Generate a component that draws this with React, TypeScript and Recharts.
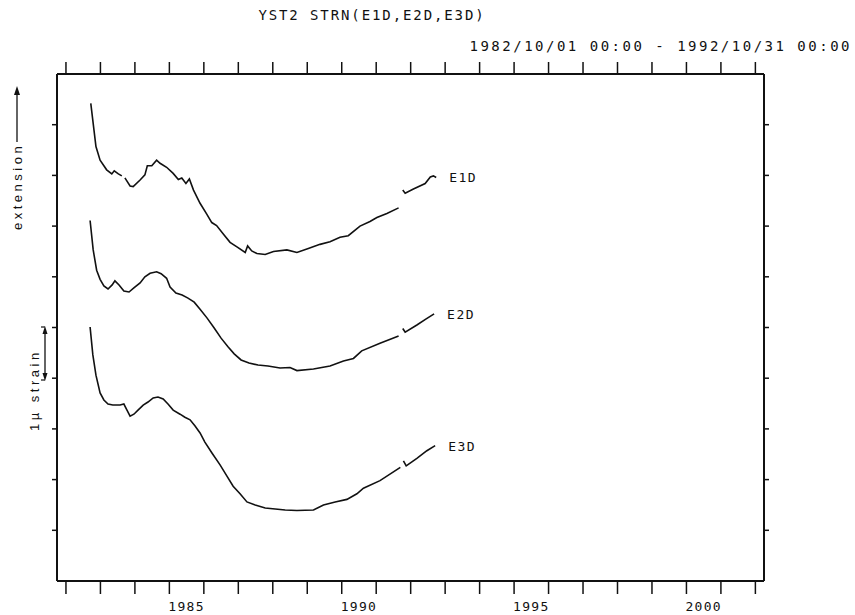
import React from 'react';
import { LineChart, Line, XAxis, YAxis } from 'recharts';

// time in decimal years, strain in 1µ units (arbitrary offset per component)
const e1dYears = [1982.72, 1982.87, 1982.99, 1983.18, 1983.33, 1983.4, 1983.52, 1983.62, 1983.66, 1983.71, 1983.86, 1983.95, 1984.15, 1984.29, 1984.36, 1984.49, 1984.63, 1984.73, 1984.92, 1985.11, 1985.26, 1985.36, 1985.48, 1985.58, 1985.7, 1985.89, 1986.08, 1986.23, 1986.37, 1986.57, 1986.76, 1986.96, 1987.2, 1987.27, 1987.39, 1987.54, 1987.78, 1988.02, 1988.41, 1988.7, 1989.03, 1989.37, 1989.66, 1989.95, 1990.19, 1990.53, 1990.82, 1991.02, 1991.31, 1991.65, 1991.71, 1991.77, 1991.84, 1992.08, 1992.42, 1992.57, 1992.66, 1992.74];
const e1dValues = [9.42, 8.57, 8.3, 8.11, 8.03, 8.09, 8.03, 7.99, null, 7.95, 7.79, 7.78, 7.91, 8.01, 8.19, 8.19, 8.3, 8.24, 8.16, 8.04, 7.92, 7.95, 7.84, 7.93, 7.71, 7.45, 7.24, 7.07, 7.01, 6.84, 6.68, 6.59, 6.48, 6.61, 6.51, 6.46, 6.44, 6.5, 6.53, 6.48, 6.56, 6.64, 6.69, 6.78, 6.81, 7.0, 7.09, 7.17, 7.25, 7.36, null, 7.71, 7.65, 7.73, 7.84, 7.97, 7.99, 7.96];

const e2dYears = [1982.7, 1982.79, 1982.89, 1982.99, 1983.1, 1983.22, 1983.34, 1983.42, 1983.54, 1983.68, 1983.83, 1983.97, 1984.15, 1984.29, 1984.44, 1984.63, 1984.76, 1984.92, 1985.02, 1985.19, 1985.37, 1985.54, 1985.72, 1985.89, 1986.09, 1986.3, 1986.5, 1986.7, 1986.88, 1987.08, 1987.31, 1987.57, 1987.86, 1988.21, 1988.5, 1988.7, 1989.18, 1989.66, 1990.05, 1990.34, 1990.58, 1991.11, 1991.65, 1991.71, 1991.77, 1991.84, 1992.18, 1992.45, 1992.68];
const e2dValues = [7.11, 6.53, 6.13, 5.95, 5.82, 5.76, 5.84, 5.92, 5.84, 5.72, 5.7, 5.78, 5.88, 6.0, 6.07, 6.1, 6.06, 5.97, 5.8, 5.68, 5.64, 5.58, 5.5, 5.36, 5.19, 4.99, 4.79, 4.62, 4.48, 4.36, 4.3, 4.26, 4.24, 4.2, 4.21, 4.15, 4.18, 4.24, 4.34, 4.39, 4.54, 4.69, 4.83, null, 4.98, 4.91, 5.05, 5.17, 5.27];

const e3dYears = [1982.7, 1982.78, 1982.87, 1982.99, 1983.1, 1983.22, 1983.36, 1983.57, 1983.68, 1983.77, 1983.86, 1983.97, 1984.09, 1984.24, 1984.38, 1984.53, 1984.67, 1984.82, 1984.96, 1985.11, 1985.31, 1985.45, 1985.6, 1985.74, 1985.89, 1986.03, 1986.24, 1986.47, 1986.67, 1986.85, 1987.05, 1987.25, 1987.49, 1987.78, 1988.07, 1988.36, 1988.7, 1989.18, 1989.47, 1989.81, 1990.15, 1990.44, 1990.63, 1991.11, 1991.7, 1991.74, 1991.79, 1991.87, 1992.18, 1992.47, 1992.71];
const e3dValues = [5.01, 4.46, 4.06, 3.71, 3.57, 3.49, 3.47, 3.47, 3.49, 3.37, 3.25, 3.29, 3.37, 3.47, 3.53, 3.61, 3.63, 3.59, 3.49, 3.37, 3.29, 3.23, 3.18, 3.06, 2.92, 2.74, 2.52, 2.29, 2.07, 1.87, 1.72, 1.56, 1.5, 1.44, 1.42, 1.4, 1.39, 1.4, 1.5, 1.56, 1.61, 1.72, 1.83, 1.98, 2.24, null, 2.37, 2.27, 2.42, 2.57, 2.67];

const yearTicks = [1982, 1983, 1984, 1985, 1986, 1987, 1988, 1989, 1990, 1991, 1992, 1993, 1994, 1995, 1996, 1997, 1998, 1999, 2000, 2001, 2002];
const labelYears = [1985, 1990, 1995, 2000];
const strainTicks = [1, 2, 3, 4, 5, 6, 7, 8, 9];

const title = 'YST2 STRN(E1D,E2D,E3D)';
const period = '1982/10/01 00:00 - 1992/10/31 00:00';

const toPoints = (years: number[], values: (number | null)[]) =>
  years.map((t, i) => ({ t, v: values[i] }));

const series = [
  { name: 'E1D', data: toPoints(e1dYears, e1dValues) },
  { name: 'E2D', data: toPoints(e2dYears, e2dValues) },
  { name: 'E3D', data: toPoints(e3dYears, e3dValues) },
];

const W = 855;
const H = 615;
// axes take 1px each, so the plot box is 57..764 x 74..581
const margin = { top: 73, right: 90, bottom: 33, left: 56 };
const xDomain = [1981.74, 2002.25];
const pxPerYear = (W - 57 - 91) / (xDomain[1] - xDomain[0]);
const mono = '"DejaVu Sans Mono", monospace';
const sans = '"Liberation Sans", Arial, sans-serif';

const YearTick = (props: any) => {
  const { x, y, payload } = props;
  if (!labelYears.includes(payload.value)) return <g />;
  return (
    <text x={x + pxPerYear / 2} y={y + 17} textAnchor="middle" fontFamily={mono} fontSize={13} fill="#111" style={{ letterSpacing: '1.3px' }}>
      {payload.value}
    </text>
  );
};

const NoLabel = () => <g />;

const endLabel = (name: string, last: number) => (props: any) => {
  const { x, y, index } = props;
  if (index !== last) return <g key={name + index} />;
  return (
    <text key={name} x={x + 13} y={y + 5} fontFamily={mono} fontSize={13} fill="#111" style={{ letterSpacing: '1.5px' }}>
      {name}
    </text>
  );
};

const axisStroke = { stroke: '#111', strokeWidth: 2 };
const tickStroke = { stroke: '#111', strokeWidth: 1.5 };

export default function App() {
  return (
    <div style={{ position: 'absolute', left: 0, top: 0, width: W, height: H, background: '#fff' }}>
      <LineChart width={W} height={H} margin={margin}>
        <XAxis xAxisId="b" type="number" dataKey="t" domain={xDomain} allowDataOverflow ticks={yearTicks} interval={0}
          height={1} tickSize={13} tickMargin={0} axisLine={axisStroke} tickLine={tickStroke} tick={<YearTick />} />
        <XAxis xAxisId="t" orientation="top" type="number" dataKey="t" domain={xDomain} allowDataOverflow ticks={yearTicks} interval={0}
          height={1} tickSize={12} axisLine={axisStroke} tickLine={tickStroke} tick={<NoLabel />} />
        <YAxis yAxisId="l" type="number" domain={[0, 10]} allowDataOverflow ticks={strainTicks} interval={0}
          width={1} tickSize={5} axisLine={axisStroke} tickLine={tickStroke} tick={<NoLabel />} />
        <YAxis yAxisId="r" orientation="right" type="number" domain={[0, 10]} allowDataOverflow ticks={strainTicks} interval={0}
          width={1} tickSize={5} axisLine={axisStroke} tickLine={tickStroke} tick={<NoLabel />} />
        {series.map((s) => (
          <Line key={s.name} xAxisId="b" yAxisId="l" data={s.data} dataKey="v" type="linear" stroke="#111" strokeWidth={1.6}
            dot={false} activeDot={false} connectNulls={false} isAnimationActive={false}
            label={endLabel(s.name, s.data.length - 1)} />
        ))}
      </LineChart>
      <svg width={W} height={H} style={{ position: 'absolute', left: 0, top: 0, pointerEvents: 'none' }}>
        <text x={372} y={20} textAnchor="middle" fontFamily={mono} fontSize={14} fill="#111" style={{ letterSpacing: '1.9px' }}>{title}</text>
        <text x={852} y={51} textAnchor="end" fontFamily={mono} fontSize={14} fill="#111" style={{ letterSpacing: '2.5px' }}>{period}</text>
        <text transform="translate(22,230) rotate(-90)" fontFamily={sans} fontSize={13} fill="#111" style={{ letterSpacing: '3.5px' }}>extension</text>
        <line x1={17} y1={142} x2={17} y2={92} stroke="#111" strokeWidth={1.3} />
        <path d="M17,86 L14,95 L20,95 Z" fill="#111" />
        <text transform="translate(39,431) rotate(-90)" fontFamily={sans} fontSize={13} fill="#111" style={{ letterSpacing: '3.5px' }}>1µ strain</text>
        <line x1={45} y1={330} x2={45} y2={377} stroke="#111" strokeWidth={1.3} />
        <path d="M45,326 L42.5,334 L47.5,334 Z" fill="#111" />
        <path d="M45,381 L42.5,373 L47.5,373 Z" fill="#111" />
        <line x1={41} y1={327} x2={45} y2={327} stroke="#111" strokeWidth={1.2} />
        <line x1={41} y1={380} x2={45} y2={380} stroke="#111" strokeWidth={1.2} />
      </svg>
    </div>
  );
}
